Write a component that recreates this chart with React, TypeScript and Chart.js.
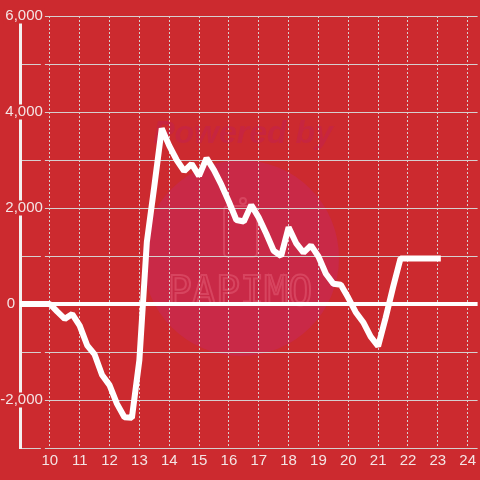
import { useEffect, useRef } from "react";
import { Chart, registerables } from "chart.js";

Chart.register(...registerables);

// Hours of the day (15-minute steps)
const times = [
  9, 9.25, 9.5, 9.75, 10, 10.25, 10.5, 10.75, 11, 11.25, 11.5, 11.75,
  12, 12.25, 12.5, 12.75, 13, 13.25, 13.5, 13.75, 14, 14.25, 14.5, 14.75,
  15, 15.25, 15.5, 15.75, 16, 16.25, 16.5, 16.75, 17, 17.25, 17.5, 17.75,
  18, 18.25, 18.5, 18.75, 19, 19.25, 19.5, 19.75, 20, 20.25, 20.5, 20.75,
  21, 21.25, 21.5, 21.75, 22, 22.25, 22.5, 22.75, 23,
];

// Balance values
const values = [
  0, 0, 0, 0, 0, -160, -310, -210, -450, -860, -1050, -1480,
  -1690, -2080, -2360, -2370, -1170, 1290, 2450, 3660, 3300, 3000, 2770, 2920,
  2670, 3040, 2790, 2480, 2130, 1750, 1720, 2060, 1800, 1470, 1110, 1000,
  1600, 1270, 1070, 1220, 990, 630, 420, 400, 130, -170, -380, -680,
  -880, -290, 350, 950, 950, 950, 950, 950, 950,
];

const xMin = 9;
const xMax = 24.3333;
const xFirstLabel = 10;
const yMin = -3000;
const yMax = 6000;
const yStep = 1000;
const yLabelStep = 2000;

const BG = "#cc2a2f";
const GRID = "#d6cfcf";
const TEXT = "#f4e4e4";
const FONT = "'Liberation Sans', Arial, sans-serif";

const watermark = {
  id: "watermark",
  beforeDraw(chart: any) {
    const { ctx, width, height } = chart;
    ctx.save();
    ctx.fillStyle = BG;
    ctx.fillRect(0, 0, width, height);
    // soft circle
    ctx.beginPath();
    ctx.arc(241, 258, 98, 0, Math.PI * 2);
    ctx.fillStyle = "#c92947";
    ctx.fill();
    // phone outline
    ctx.strokeStyle = "rgba(240,120,140,0.35)";
    ctx.lineWidth = 2;
    ctx.beginPath();
    (ctx as any).roundRect(224, 206, 33, 51, 4);
    ctx.stroke();
    ctx.beginPath();
    ctx.arc(243, 201, 3, 0, Math.PI * 2);
    ctx.stroke();
    // texts
    ctx.textAlign = "center";
    ctx.textBaseline = "alphabetic";
    ctx.font = `italic bold 32px ${FONT}`;
    ctx.fillStyle = "rgba(195,35,75,0.6)";
    ctx.fillText("Powered by", 243, 143);
    ctx.font = `40px 'DejaVu Sans Mono', monospace`;
    ctx.strokeStyle = "rgba(240,120,140,0.35)";
    ctx.lineWidth = 2;
    ctx.strokeText("PAPIMO", 240, 305);
    ctx.restore();
  },
};

export default function App() {
  const ref = useRef<HTMLCanvasElement>(null);

  useEffect(() => {
    if (!ref.current) return;
    const chart = new Chart(ref.current, {
      type: "line",
      data: {
        datasets: [
          {
            data: times.map((t, i) => ({ x: t, y: values[i] })),
            borderColor: "#ffffff",
            borderWidth: 6,
            pointRadius: 0,
            tension: 0,
            borderCapStyle: "square",
            borderJoinStyle: "bevel",
            fill: false,
          },
        ],
      },
      options: {
        animation: false,
        responsive: false,
        layout: { padding: { top: 16, bottom: 6, left: 0, right: 0 } },
        plugins: { legend: { display: false }, tooltip: { enabled: false } },
        scales: {
          x: {
            type: "linear",
            min: xMin,
            max: xMax,
            ticks: {
              stepSize: 1,
              includeBounds: false,
              autoSkip: false,
              maxRotation: 0,
              padding: 4,
              color: TEXT,
              font: { size: 15, family: FONT },
              callback: (v: any) =>
                Number.isInteger(v) && v >= xFirstLabel ? String(v) : "",
            },
            grid: { color: GRID, lineWidth: 1, drawTicks: false },
            border: { display: false, dash: [2, 2] },
          },
          y: {
            position: "left",
            min: yMin,
            max: yMax,
            afterFit: (scale: any) => {
              scale.width = 20;
            },
            ticks: {
              stepSize: yStep,
              padding: 5,
              color: TEXT,
              font: { size: 15, family: FONT },
              callback: (v: any) => (v === 0 ? "0" : ""),
            },
            grid: {
              drawTicks: false,
              color: (c: any) => (c.tick && c.tick.value === 0 ? "#ffffff" : GRID),
              lineWidth: (c: any) => (c.tick && c.tick.value === 0 ? 4 : 1),
            },
            border: { color: "#f4f0f0", width: 3 },
          },
          y2: {
            axis: "y",
            position: { x: 9.76667 } as any,
            min: yMin,
            max: yMax,
            ticks: {
              stepSize: yStep,
              padding: 0,
              color: TEXT,
              font: { size: 15, family: FONT, lineHeight: 1 },
              showLabelBackdrop: true,
              backdropColor: BG,
              backdropPadding: { top: 0, bottom: 0, left: 2, right: 2 },
              callback: (v: any) =>
                v !== 0 && v % yLabelStep === 0 ? Number(v).toLocaleString("en-US") : "",
            },
            grid: { display: false, drawTicks: false },
            border: { display: false },
          },
        } as any,
      },
      plugins: [watermark],
    });
    return () => chart.destroy();
  }, []);

  return (
    <div style={{ position: "fixed", left: 0, top: 0, width: 480, height: 480, background: BG }}>
      <canvas ref={ref} width={480} height={480} style={{ display: "block" }} />
    </div>
  );
}
